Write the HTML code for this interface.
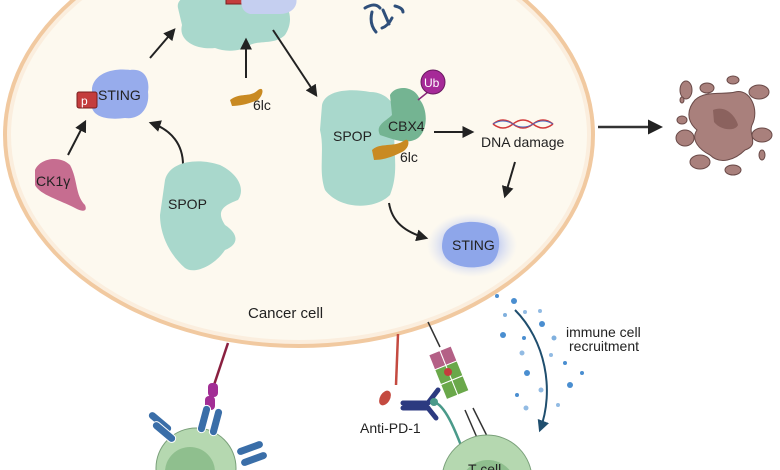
<!DOCTYPE html>
<html><head><meta charset="utf-8"><style>
html,body{margin:0;padding:0;background:#fff;width:780px;height:470px;overflow:hidden}
svg{display:block;overflow:hidden}
text{font-family:"Liberation Sans",sans-serif;fill:#222}
</style></head><body>
<svg width="780" height="470" viewBox="0 0 780 470" xmlns="http://www.w3.org/2000/svg">
<defs>
<marker id="ah" viewBox="0 0 10 10" refX="8" refY="5" markerWidth="6" markerHeight="6" orient="auto"><path d="M0,0L10,5L0,10z" fill="#222"/></marker>
<marker id="ah2" viewBox="0 0 10 10" refX="8" refY="5" markerWidth="6" markerHeight="6" orient="auto"><path d="M0,0L10,5L0,10z" fill="#1f4e6e"/></marker>
<radialGradient id="glow"><stop offset="0.5" stop-color="#9aaef0" stop-opacity="0.7"/><stop offset="1" stop-color="#c8d4f8" stop-opacity="0"/></radialGradient>
<clipPath id="cp"><rect x="0" y="0" width="780" height="470"/></clipPath>
</defs>
<g clip-path="url(#cp)">
<ellipse cx="299" cy="135" rx="296" ry="213" fill="#f1c9a0"/>
<ellipse cx="299" cy="135" rx="292" ry="209" fill="#fbeede"/>
<ellipse cx="299" cy="135" rx="288" ry="205" fill="#fdf9ef"/>
<text x="248" y="318" font-size="15">Cancer cell</text>

<path d="M178,8 C175,-5 200,-10 220,-5 L270,-5 C290,0 295,20 285,35 C275,45 260,40 250,45 C240,52 225,52 215,48 C195,50 178,40 182,25 Z" fill="#a9d8cc"/>
<rect x="226" y="-6" width="16" height="10" fill="#c43d3d" stroke="#7a1f1f"/>
<path d="M242,-5 L295,-5 C300,5 292,14 280,14 L250,14 C242,12 240,5 242,-5 Z" fill="#c5cff0"/>
<path d="M365,8 q10,-6 15,0 M372,12 q-3,12 4,20 M383,10 l6,14 M392,18 q-4,8 -10,10 M395,6 q8,2 8,6" stroke="#2f4f7a" stroke-width="3" fill="none" stroke-linecap="round"/>

<line x1="150" y1="58" x2="174" y2="30" stroke="#222" stroke-width="2" marker-end="url(#ah)"/>
<line x1="246" y1="78" x2="246" y2="40" stroke="#222" stroke-width="2" marker-end="url(#ah)"/>
<line x1="273" y1="30" x2="316" y2="95" stroke="#222" stroke-width="2" marker-end="url(#ah)"/>
<line x1="68" y1="155" x2="85" y2="122" stroke="#222" stroke-width="2" marker-end="url(#ah)"/>
<path d="M183,165 C183,145 172,130 151,123" stroke="#222" stroke-width="2" fill="none" marker-end="url(#ah)"/>

<path d="M92,88 C95,72 115,68 130,70 C145,68 150,80 148,92 C150,108 140,120 125,118 C110,120 95,118 92,108 Z" fill="#97acec"/>
<rect x="77" y="92" width="20" height="16" rx="2" fill="#c43d3d" stroke="#7a1f1f"/>
<text x="81" y="105" font-size="12" style="fill:#fff">p</text>
<text x="98" y="100" font-size="14">STING</text>

<path d="M35,170 C40,158 60,155 70,165 C78,180 75,195 85,205 C88,212 82,212 75,208 C60,200 40,195 35,185 Z" fill="#c66d90"/>
<text x="36" y="186" font-size="14">CK1γ</text>

<path d="M165,180 C170,160 200,158 220,165 C240,175 245,190 238,200 C225,205 215,210 225,225 C240,235 238,245 225,250 C215,265 195,275 185,268 C170,255 160,235 160,215 Z" fill="#a9d8cc"/>
<text x="168" y="209" font-size="14">SPOP</text>

<path d="M230,100 C240,92 250,98 258,90 C264,86 264,94 258,100 C248,104 240,106 232,106 Z" fill="#c98a22"/>
<text x="253" y="110" font-size="14">6lc</text>

<path d="M322,105 C325,90 350,88 370,92 C390,92 400,110 395,125 C392,150 400,170 390,195 C375,210 340,210 325,190 C318,170 325,150 320,130 Z" fill="#a9d8cc"/>
<text x="333" y="141" font-size="14">SPOP</text>
<path d="M390,95 C395,85 415,85 420,100 C428,110 428,130 418,138 C408,145 395,140 380,135 C375,125 385,122 392,115 Z" fill="#74b492"/>
<text x="388" y="131" font-size="14">CBX4</text>
<line x1="418" y1="100" x2="428" y2="92" stroke="#8a2a7a" stroke-width="1.5"/>
<circle cx="433" cy="82" r="12" fill="#a62a98" stroke="#6a1a60"/>
<text x="424" y="87" font-size="12" style="fill:#fff">Ub</text>
<path d="M372,150 C380,142 395,148 405,140 C410,138 410,148 402,152 C390,158 382,160 374,160 Z" fill="#c98a22"/>
<text x="400" y="162" font-size="14">6lc</text>
<line x1="434" y1="132" x2="472" y2="132" stroke="#222" stroke-width="2" marker-end="url(#ah)"/>
<path d="M493,124 q10,-8 20,0 t20,0 t20,0 M493,124 q10,8 20,0 t20,0 t20,0" stroke="#d23a3a" stroke-width="1.5" fill="none"/>
<path d="M493,124 q10,-6 20,0 t20,0 t20,0" stroke="#4a6ac0" stroke-width="1" fill="none"/>
<text x="481" y="147" font-size="14">DNA damage</text>
<line x1="515" y1="162" x2="505" y2="196" stroke="#222" stroke-width="2" marker-end="url(#ah)"/>
<path d="M389,203 C392,222 405,232 426,238" stroke="#222" stroke-width="2" fill="none" marker-end="url(#ah)"/>

<ellipse cx="472" cy="245" rx="45" ry="32" fill="url(#glow)"/>
<path d="M444,235 C450,220 480,218 495,228 C502,238 500,258 490,264 C475,270 455,268 446,258 C440,250 442,242 444,235 Z" fill="#8ea6ea"/>
<text x="452" y="250" font-size="14">STING</text>

<line x1="598" y1="127" x2="660" y2="127" stroke="#333" stroke-width="2.5" marker-end="url(#ah)"/>
<g fill="#a9807c" stroke="#6a4a48" stroke-width="1">
<path d="M695,100 C705,90 725,95 735,92 C750,88 760,110 752,125 C748,135 760,145 745,150 C735,160 720,165 710,155 C700,150 690,140 697,130 C685,120 688,108 695,100 Z"/>
<ellipse cx="686" cy="90" rx="6" ry="9"/><ellipse cx="707" cy="88" rx="7" ry="5"/><ellipse cx="733" cy="80" rx="6" ry="4"/>
<ellipse cx="759" cy="92" rx="10" ry="7"/><ellipse cx="682" cy="120" rx="5" ry="4"/><ellipse cx="685" cy="138" rx="9" ry="8"/>
<ellipse cx="762" cy="135" rx="10" ry="7"/><ellipse cx="700" cy="162" rx="10" ry="7"/><ellipse cx="733" cy="170" rx="8" ry="5"/><ellipse cx="762" cy="155" rx="3" ry="5"/><ellipse cx="682" cy="100" rx="2" ry="3"/>
</g>
<path d="M713,110 C725,105 735,115 738,125 C735,132 720,130 714,122 Z" fill="#8b625e"/>

<line x1="228" y1="343" x2="213" y2="388" stroke="#8a2040" stroke-width="2.5"/>
<rect x="208" y="383" width="10" height="14" rx="4" fill="#a22e95"/>
<rect x="205" y="396" width="10" height="14" rx="4" fill="#a22e95"/>
<circle cx="196" cy="468" r="40" fill="#b5d8b0" stroke="#7aa07a"/>
<circle cx="190" cy="472" r="25" fill="#8fbf8e"/>
<g fill="#3a6ea8" stroke="#fff" stroke-width="1">
<rect x="200" y="405" width="8" height="28" rx="4" transform="rotate(15 204 419)"/>
<rect x="212" y="408" width="8" height="28" rx="4" transform="rotate(15 216 422)"/>
<rect x="146" y="418" width="28" height="8" rx="4" transform="rotate(40 160 422)"/>
<rect x="150" y="428" width="28" height="8" rx="4" transform="rotate(40 164 432)"/>
<rect x="236" y="444" width="28" height="8" rx="4" transform="rotate(-20 250 448)"/>
<rect x="240" y="455" width="28" height="8" rx="4" transform="rotate(-20 254 459)"/>
</g>

<line x1="398" y1="334" x2="396" y2="385" stroke="#c44a40" stroke-width="2.5"/>
<ellipse cx="385" cy="398" rx="5" ry="8" fill="#c44a40" transform="rotate(30 385 398)"/>
<g stroke="#2c3a80" stroke-width="5" stroke-linecap="round" fill="none">
<line x1="403" y1="403" x2="428" y2="403"/><line x1="403" y1="408" x2="428" y2="408"/>
<line x1="428" y1="403" x2="438" y2="390"/><line x1="428" y1="408" x2="436" y2="418"/>
</g>
<path d="M434,402 C445,405 455,430 462,448" stroke="#4a9a8a" stroke-width="2.5" fill="none"/>
<circle cx="434" cy="402" r="4" fill="#4a9a8a"/>
<line x1="428" y1="322" x2="440" y2="347" stroke="#333" stroke-width="1.5"/>
<g transform="rotate(-22 455 380)">
<rect x="440" y="347" width="12" height="16" fill="#b46086" stroke="#fff"/><rect x="452" y="347" width="12" height="16" fill="#b46086" stroke="#fff"/>
<rect x="440" y="363" width="12" height="16" fill="#6aa84a" stroke="#fff"/><rect x="452" y="363" width="12" height="16" fill="#6aa84a" stroke="#fff"/>
<rect x="440" y="379" width="12" height="16" fill="#6aa84a" stroke="#fff"/><rect x="452" y="379" width="12" height="16" fill="#6aa84a" stroke="#fff"/>
</g>
<circle cx="448" cy="372" r="4" fill="#c43d3d"/>
<line x1="465" y1="410" x2="478" y2="440" stroke="#333" stroke-width="1.5"/>
<line x1="473" y1="408" x2="487" y2="436" stroke="#333" stroke-width="1.5"/>
<circle cx="487" cy="480" r="45" fill="#b5d8b0" stroke="#7aa07a"/>
<circle cx="488" cy="488" r="28" fill="#8fbf8e"/>
<text x="468" y="474" font-size="14">T cell</text>
<text x="360" y="433" font-size="14">Anti-PD-1</text>

<g fill="#4a8ed0">
<circle cx="497" cy="296" r="2"/><circle cx="514" cy="301" r="3"/><circle cx="505" cy="315" r="2" opacity="0.7"/><circle cx="525" cy="312" r="2" opacity="0.6"/><circle cx="540" cy="311" r="2" opacity="0.6"/>
<circle cx="542" cy="324" r="3"/><circle cx="503" cy="335" r="3"/><circle cx="524" cy="338" r="2"/><circle cx="554" cy="338" r="2.5" opacity="0.7"/>
<circle cx="522" cy="353" r="2.5" opacity="0.6"/><circle cx="551" cy="355" r="2" opacity="0.6"/><circle cx="565" cy="363" r="2"/><circle cx="527" cy="373" r="3"/><circle cx="582" cy="373" r="2"/>
<circle cx="570" cy="385" r="3"/><circle cx="541" cy="390" r="2.5" opacity="0.6"/><circle cx="517" cy="395" r="2"/><circle cx="558" cy="405" r="2" opacity="0.6"/><circle cx="526" cy="408" r="2.5" opacity="0.6"/>
</g>
<path d="M515,310 C545,340 555,390 540,430" stroke="#1f4e6e" stroke-width="2" fill="none" marker-end="url(#ah2)"/>
<text x="566" y="337" font-size="14">immune cell</text>
<text x="569" y="351" font-size="14">recruitment</text>
</g>
</svg>
</body></html>
